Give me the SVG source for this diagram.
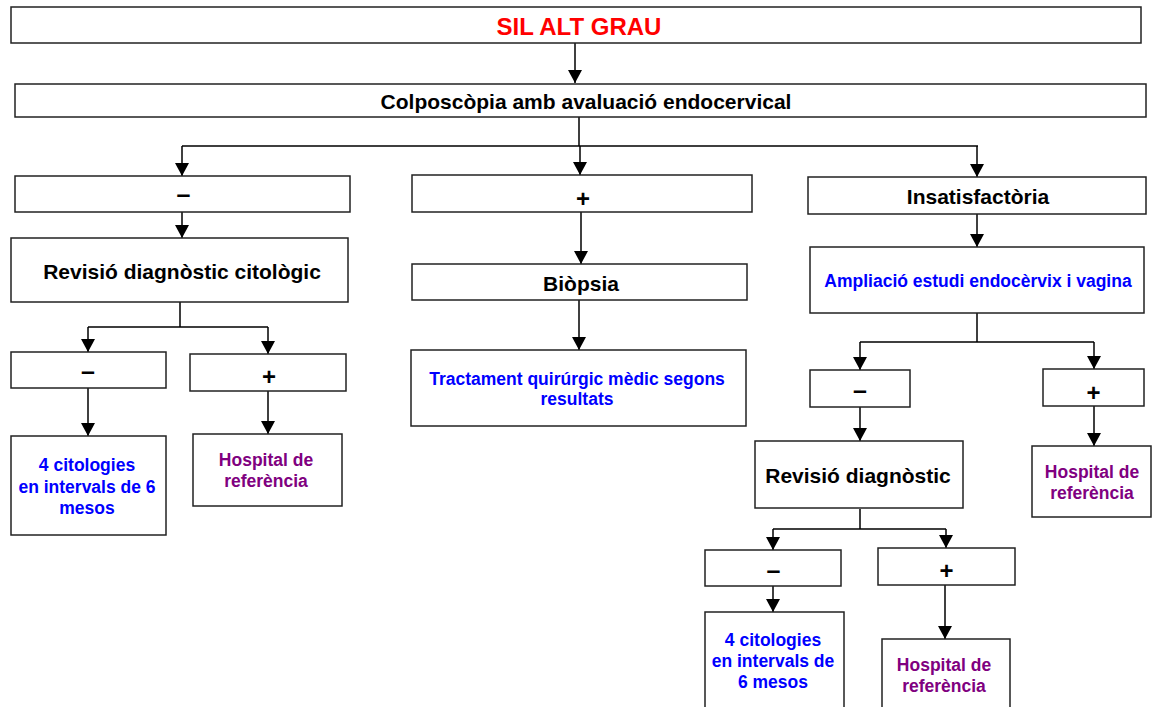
<svg xmlns="http://www.w3.org/2000/svg" width="1152" height="707" viewBox="0 0 1152 707">
<defs>
<style>
.box{fill:#fff;stroke:#222;stroke-width:1.5}
.t{font-family:"Liberation Sans",Arial,sans-serif;font-weight:bold;text-anchor:middle;fill:#000}
.big{font-size:21px}
.sgn{font-size:25px}
.pl{font-size:24px}
.sm{font-size:17.5px}
.blue{fill:#0000ff}
.pur{fill:#800080}
.red{fill:#ff0000;font-size:24px}
.c{fill:none;stroke:#000;stroke-width:1.5}
</style>
<marker id="ah" markerWidth="14" markerHeight="14" refX="13" refY="7" orient="auto" markerUnits="userSpaceOnUse"><path d="M0,0 L13,7 L0,14 z" fill="#000"/></marker>
</defs>
<rect width="1152" height="707" fill="#fff"/>
<g id="connectors">
<path class="c" d="M575,43 V83" marker-end="url(#ah)"/>
<path class="c" d="M579,117 V146 M182,146 H978"/>
<path class="c" d="M182,146 V176" marker-end="url(#ah)"/>
<path class="c" d="M580,146 V175" marker-end="url(#ah)"/>
<path class="c" d="M977,146 V177" marker-end="url(#ah)"/>
<path class="c" d="M182,212 V238" marker-end="url(#ah)"/>
<path class="c" d="M180,302 V327 M88,327 H268"/>
<path class="c" d="M88,327 V352" marker-end="url(#ah)"/>
<path class="c" d="M268,327 V354" marker-end="url(#ah)"/>
<path class="c" d="M88,388 V436" marker-end="url(#ah)"/>
<path class="c" d="M268,391 V434" marker-end="url(#ah)"/>
<path class="c" d="M581,212 V264" marker-end="url(#ah)"/>
<path class="c" d="M579,300 V350" marker-end="url(#ah)"/>
<path class="c" d="M977,214 V247" marker-end="url(#ah)"/>
<path class="c" d="M977,313 V342 M860,342 H1094"/>
<path class="c" d="M860,342 V370" marker-end="url(#ah)"/>
<path class="c" d="M1094,342 V369" marker-end="url(#ah)"/>
<path class="c" d="M860,407 V441" marker-end="url(#ah)"/>
<path class="c" d="M1094,406 V446" marker-end="url(#ah)"/>
<path class="c" d="M860,509 V529 M773,529 H946"/>
<path class="c" d="M773,529 V550" marker-end="url(#ah)"/>
<path class="c" d="M946,529 V548" marker-end="url(#ah)"/>
<path class="c" d="M773,586 V612" marker-end="url(#ah)"/>
<path class="c" d="M945,585 V639" marker-end="url(#ah)"/>
</g>
<g id="n-sil"><rect class="box" x="11" y="7" width="1130" height="36"/><text class="t red" x="579" y="35">SIL ALT GRAU</text></g>
<g id="n-colpo"><rect class="box" x="15" y="84" width="1131" height="33"/><text class="t big" x="586" y="109">Colposcòpia amb avaluació endocervical</text></g>
<g id="n-neg1"><rect class="box" x="15" y="176" width="335" height="36"/><text class="t sgn" x="183.5" y="203">–</text></g>
<g id="n-pos1"><rect class="box" x="412" y="175" width="340" height="37"/><text class="t pl" x="583" y="207">+</text></g>
<g id="n-insat"><rect class="box" x="808" y="177" width="338" height="37"/><text class="t big" x="978" y="204">Insatisfactòria</text></g>
<g id="n-rev1"><rect class="box" x="11" y="238" width="337" height="64"/><text class="t big" x="182" y="279">Revisió diagnòstic citològic</text></g>
<g id="n-biopsia"><rect class="box" x="412" y="264" width="335" height="36"/><text class="t big" x="581" y="291">Biòpsia</text></g>
<g id="n-ampl"><rect class="box" x="810" y="247" width="334" height="66"/><text class="t sm blue" x="978" y="287">Ampliació estudi endocèrvix i vagina</text></g>
<g id="n-neg2"><rect class="box" x="11" y="352" width="155" height="36"/><text class="t sgn" x="88" y="380">–</text></g>
<g id="n-pos2"><rect class="box" x="190" y="354" width="156" height="37"/><text class="t pl" x="269" y="385">+</text></g>
<g id="n-tract"><rect class="box" x="411" y="350" width="335" height="76"/><text class="t sm blue" x="577" y="385">Tractament quirúrgic mèdic segons</text><text class="t sm blue" x="577" y="405">resultats</text></g>
<g id="n-cit1"><rect class="box" x="11" y="436" width="155" height="99"/><text class="t sm blue" x="87" y="471">4 citologies</text><text class="t sm blue" x="87" y="493">en intervals de 6</text><text class="t sm blue" x="87" y="514">mesos</text></g>
<g id="n-hosp1"><rect class="box" x="193" y="434" width="149" height="72"/><text class="t sm pur" x="266" y="466">Hospital de</text><text class="t sm pur" x="266" y="487">referència</text></g>
<g id="n-neg3"><rect class="box" x="810" y="370" width="100" height="37"/><text class="t sgn" x="860" y="398.5">–</text></g>
<g id="n-pos3"><rect class="box" x="1043" y="369" width="101" height="37"/><text class="t pl" x="1093.5" y="401">+</text></g>
<g id="n-rev2"><rect class="box" x="755" y="441" width="208" height="67"/><text class="t big" x="858" y="483">Revisió diagnòstic</text></g>
<g id="n-hosp2"><rect class="box" x="1032" y="446" width="119" height="71"/><text class="t sm pur" x="1092" y="478">Hospital de</text><text class="t sm pur" x="1092" y="499">referència</text></g>
<g id="n-neg4"><rect class="box" x="705" y="550" width="136" height="36"/><text class="t sgn" x="773.5" y="578.5">–</text></g>
<g id="n-pos4"><rect class="box" x="878" y="548" width="137" height="37"/><text class="t pl" x="946.5" y="578.5">+</text></g>
<g id="n-cit2"><rect class="box" x="705" y="612" width="139" height="100"/><text class="t sm blue" x="773" y="646">4 citologies</text><text class="t sm blue" x="773" y="667">en intervals de</text><text class="t sm blue" x="773" y="688">6 mesos</text></g>
<g id="n-hosp3"><rect class="box" x="882" y="639" width="128" height="73"/><text class="t sm pur" x="944" y="671">Hospital de</text><text class="t sm pur" x="944" y="692">referència</text></g>
</svg>
